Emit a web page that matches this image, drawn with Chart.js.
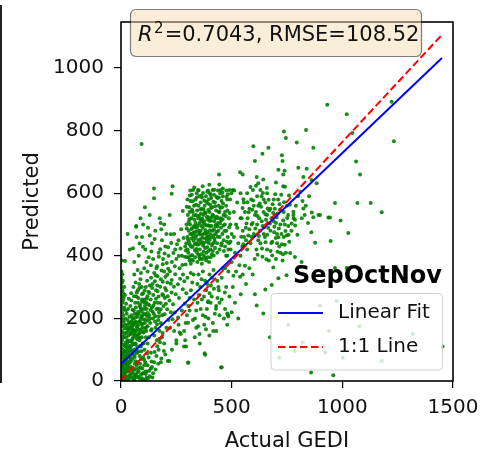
<!DOCTYPE html>
<html><head><meta charset="utf-8">
<script src="https://cdn.jsdelivr.net/npm/chart.js@4.4.0/dist/chart.umd.min.js"></script>
<style>
html,body{margin:0;padding:0;background:#fff;}
#wrap{position:relative;width:492px;height:454px;overflow:hidden;}
#sideSpine{position:absolute;left:0;top:5px;width:2px;height:378px;background:#222;}
canvas{position:absolute;left:0;top:0;}
</style></head><body>
<div id="wrap"><canvas id="c" width="492" height="454"></canvas><div id="sideSpine"></div></div>
<script>
const xTicks=[0,500,1000,1500];
const yTicks=[0,200,400,600,800,1000];
const fitX=[0,1450], fitY=[54,1032];
const oneX=[0,1450], oneY=[3,1106];
const statText={r2:'0.7043',rmse:'108.52'};
const legendTitle='SepOctNov';
const legendLabels=['Linear Fit','1:1 Line'];

const pointsOrigin=[[2,5],[5,12],[8,3],[12,20],[3,30],[15,8],[20,25],[6,45],[10,38],[18,50],[25,15],[28,40],[4,60],[9,72],[14,65],[22,80],[30,62],[35,30],[40,18],[45,45],[50,10],[38,75],[33,90],[26,100],[17,95],[7,88],[2,105],[11,115],[20,122],[29,130],[37,112],[44,98],[52,70],[58,35],[62,55],[48,125],[55,140],[42,150],[34,145],[24,155],[13,140],[5,130],[3,160],[8,175],[16,168],[27,178],[36,185],[46,172],[54,165],[60,150],[66,120],[70,90],[75,60],[80,30],[68,20],[85,80],[90,110],[78,140],[72,170],[64,190],[56,200],[48,210],[38,205],[30,195],[20,200],[10,210],[4,220],[1,240],[6,250],[14,235],[22,225],[32,230],[42,240],[52,228],[62,215],[74,205],[82,190],[88,165],[94,140],[98,120],[92,95],[86,55],[96,40],[100,75],[1,15],[1,50],[1,80],[1,120],[1,190],[1,270],[2,300],[1,330],[3,200],[5,180],[7,155],[9,100],[11,55],[13,28],[16,2],[19,60],[21,110],[23,140],[25,70],[27,5],[31,108],[33,55],[36,160],[39,128],[41,85],[43,20],[47,190],[49,155],[51,95],[53,42],[57,118],[59,180],[61,85],[63,15],[65,160],[67,235],[69,140],[71,50],[73,110],[76,250],[77,180],[79,95],[81,215],[83,130],[84,8],[87,245],[89,200],[91,70],[93,180],[95,260],[97,210],[99,25],[102,155],[104,230],[106,100],[108,185],[110,60],[112,140],[114,250],[116,30],[118,205],[120,120],[2,350],[4,385],[1,300],[3,270],[6,290],[10,280],[8,320],[15,300],[12,265],[18,275],[60,5],[70,12],[80,40],[90,20],[100,5],[110,30],[120,50],[130,15],[140,45],[150,60],[160,80],[135,90],[125,75],[115,10],[145,25],[170,100],[105,50],[99,24],[122,9],[135,40],[212,64],[303,58],[452,43],[24,32],[36,8],[44,62],[57,22],[66,38],[74,28],[29,82],[18,112],[9,140],[39,170],[58,98],[46,112],[31,165],[20,180],[13,190],[26,215]];

const pointsOriginExtra=[[7,17],[19,33],[31,47],[43,71],[13,83],[27,121],[39,97],[51,133],[63,101],[75,147],[87,113],[17,151],[29,169],[41,187],[53,179],[65,203],[77,221],[89,233],[101,197],[113,171],[121,217],[127,243],[11,229],[23,247],[35,263],[47,257],[59,271],[71,283],[83,297],[95,277],[107,289],[119,271],[3,91],[5,143],[7,197],[9,257],[4,313],[6,341],[14,17],[26,53],[38,41],[50,29],[62,77],[74,91],[86,137],[98,157],[110,213],[122,193],[134,227],[146,241],[158,263],[3,45],[17,73],[33,127],[45,151],[57,161],[69,187],[81,163],[93,223],[105,251],[117,263],[129,281],[141,297],[153,319],[165,287],[177,301],[189,317],[201,333],[213,359],[225,311],[15,41],[21,93],[37,57],[49,83],[61,119],[73,133],[85,153],[97,183],[109,167],[131,199],[143,221],[155,207],[167,231],[179,249],[191,273],[203,247],[12,3],[34,12],[56,6],[78,14],[94,9],[112,22],[128,33],[142,11],[156,37],[168,55],[182,72],[194,96],[31,3],[48,37],[66,63],[88,43],[104,68],[118,88],[138,62],[152,93],[164,111],[176,124],[188,153]];

const pointsLow=[[42,105],[48,130],[55,118],[62,145],[68,160],[74,175],[80,150],[86,190],[92,205],[98,170],[104,215],[110,195],[116,230],[122,245],[128,210],[134,260],[140,235],[146,275],[152,250],[158,290],[164,305],[170,270],[45,180],[52,200],[58,225],[64,250],[70,270],[76,290],[82,310],[88,325],[94,300],[100,280],[106,260],[112,300],[118,320],[124,285],[130,305],[136,330],[142,310],[148,215],[154,190],[160,230],[166,250],[172,220],[50,165],[60,185],[72,215],[84,240],[96,255],[108,240],[120,175],[132,185],[144,200],[156,170],[168,195],[46,280],[56,300],[66,315],[78,265],[90,230],[102,120],[114,160],[126,140],[138,165],[150,145],[162,130],[174,160],[180,185],[186,210],[192,240],[198,265],[204,290],[210,315],[185,140],[195,120],[205,170],[215,195],[225,220],[235,245],[60,340],[75,355],[90,345],[105,360],[120,350],[135,370],[150,345],[165,335],[180,325],[195,350],[210,340],[175,135],[136,161],[250,130],[265,155],[303,186],[348,175],[333,140],[356,120],[294,110],[378,89],[384,165],[429,231],[483,211],[469,283],[393,252],[218,64],[304,59],[250,120],[270,150],[230,100],[260,180],[240,160],[285,110],[200,85],[180,60],[290,130]];

const pointsLowExtra=[[157,337],[163,367],[171,397],[177,421],[183,353],[189,373],[197,407],[207,377],[213,427],[221,351],[227,441],[237,409],[243,367],[253,437],[261,399],[269,423],[277,371],[283,457],[289,397],[187,277],[199,297],[211,271],[219,257],[229,283],[239,301],[247,277],[257,309],[267,327],[279,293],[286,319],[163,181],[171,207],[179,229],[197,213],[209,229],[221,169],[233,197],[243,219],[258,203],[275,225],[288,247],[262,265],[229,323],[245,341]];

const pointsMid=[[54,424],[69,495],[84,439],[99,429],[122,490],[130,465],[137,414],[152,454],[175,520],[179,505],[182,485],[225,469],[272,485],[60,380],[80,400],[95,460],[110,420],[125,395],[140,440],[155,480],[170,410],[185,450],[200,430],[215,400],[230,380],[245,420],[260,450],[275,400],[290,430],[100,500],[115,380],[145,390],[160,360],[190,390],[205,470],[240,470],[250,390],[265,360],[280,340],[70,460],[88,520],[130,530],[149,615],[149,584],[233,622],[229,598],[279,543],[68,493],[18,383],[40,420],[30,470],[108,555],[195,500],[220,530],[93,757]];

const pointsBlob=[[292,372],[298,395],[304,410],[310,385],[316,430],[322,402],[328,448],[334,418],[340,465],[346,435],[352,480],[358,452],[364,495],[370,468],[376,510],[382,482],[388,525],[394,498],[400,540],[406,512],[412,555],[418,528],[424,570],[430,545],[436,585],[442,560],[448,600],[454,575],[460,615],[300,460],[306,480],[312,500],[318,520],[324,540],[330,560],[336,580],[342,600],[348,610],[354,590],[360,570],[366,550],[372,530],[378,560],[384,590],[390,605],[396,580],[402,600],[408,585],[414,610],[420,595],[295,440],[301,420],[307,445],[313,470],[319,455],[325,490],[331,475],[337,505],[343,490],[349,520],[355,505],[361,535],[367,518],[373,548],[379,500],[385,470],[391,455],[397,440],[403,470],[409,495],[415,480],[421,510],[427,495],[433,525],[439,505],[445,540],[451,520],[457,555],[463,530],[469,500],[475,560],[481,545],[487,520],[493,580],[499,600],[296,500],[302,530],[308,555],[314,575],[320,595],[326,610],[332,515],[338,530],[344,545],[350,560],[356,420],[362,405],[368,390],[374,440],[380,425],[386,410],[392,395],[398,380],[404,420],[410,405],[416,440],[422,455],[428,470],[434,440],[440,480],[446,460],[452,490],[458,470],[464,450],[470,430],[476,480],[482,460],[488,440],[494,500],[500,470],[305,395],[315,375],[325,385],[335,395],[345,380],[355,395],[365,375],[375,400],[385,385],[395,415],[405,395],[415,415],[425,425],[435,410],[445,420],[455,440],[465,415],[475,400],[485,420],[495,445],[300,580],[310,540],[320,470],[330,495],[340,440],[350,450],[360,480],[370,490],[380,455],[390,475],[400,495],[410,460],[420,485],[430,500],[440,520],[450,610],[460,590],[470,540],[480,580],[490,610],[313,609],[351,609],[393,609],[438,609],[476,609],[511,609],[443,660],[327,462],[341,422],[357,468],[371,432],[387,446],[399,512],[311,436],[323,428],[339,478],[363,442],[377,472],[395,462],[353,438],[367,458]];

const pointsBlobExtra=[[293,417],[297,487],[303,453],[309,517],[317,401],[321,547],[327,473],[333,437],[339,563],[343,411],[347,497],[353,527],[357,389],[361,517],[363,593],[369,443],[373,413],[377,577],[383,537],[387,497],[389,427],[393,567],[397,523],[401,451],[407,553],[411,433],[413,531],[417,573],[423,447],[427,519],[431,589],[437,461],[441,541],[447,503],[453,433],[459,517],[461,567],[467,479],[473,527],[479,445],[483,597],[489,491],[297,557],[311,593],[319,387],[329,529],[337,457],[349,403],[359,549],[371,601],[381,393],[391,517],[403,563],[419,401],[433,477],[449,553],[463,497],[477,589],[491,537],[306,508],[318,486],[336,492],[354,472],[372,506],[388,458],[402,482],[418,466],[436,494],[452,512],[344,528],[362,512],[378,538],[394,546],[410,522],[426,558],[442,586],[458,602],[324,574],[342,586],[366,586],[386,572],[404,594],[421,611],[369,622],[331,618],[444,628],[399,627]];

const pointsLine=[[285,160],[292,185],[298,210],[304,240],[310,265],[316,290],[322,315],[328,340],[334,200],[340,225],[346,250],[352,275],[358,300],[364,325],[370,350],[376,180],[382,205],[388,230],[394,255],[400,280],[406,305],[412,330],[418,355],[424,215],[430,240],[436,265],[442,290],[300,330],[315,345],[330,260],[345,310],[360,230],[375,270],[390,310],[405,250],[420,295],[435,320],[295,280],[310,225],[325,195],[340,170],[355,150],[370,210],[385,290],[400,340],[415,185],[430,160],[445,210],[350,340],[365,260],[380,320],[395,200],[410,270],[485,206],[480,216],[417,160],[399,145],[380,84],[455,44],[108,3]];

const pointsRight=[[540,400],[548,430],[556,460],[564,490],[572,520],[580,550],[588,580],[596,610],[604,390],[612,420],[620,450],[628,480],[636,510],[644,540],[652,570],[660,600],[668,385],[676,415],[684,445],[692,475],[700,505],[708,535],[716,565],[724,595],[732,405],[740,435],[748,465],[756,495],[545,520],[560,540],[575,465],[590,500],[605,530],[620,560],[635,590],[650,460],[665,490],[680,520],[695,550],[710,580],[725,470],[740,500],[755,530],[570,420],[585,440],[600,470],[615,500],[630,440],[645,470],[660,420],[675,550],[690,580],[705,440],[720,410],[735,540],[750,560],[600,560],[615,590],[630,610],[645,580],[660,530],[675,480],[690,510],[705,470],[720,500],[735,460],[625,520],[640,495],[655,515],[670,545],[685,565],[610,540],[595,505],[580,485],[565,450],[550,480],[700,390],[715,430],[730,385],[745,410],[760,445],[770,480],[780,520],[790,560],[800,590],[810,605],[820,575],[835,560],[850,590],[830,530],[845,505],[860,475],[605,277],[613,241],[643,216],[652,292],[681,307],[711,328],[748,338],[688,363],[560,368],[508,336],[538,333],[541,277],[440,300],[455,330],[470,360],[485,350],[500,380],[515,410],[530,440],[520,500],[510,540],[525,570],[540,600],[505,610],[460,360],[475,300],[490,270],[505,300],[520,350],[535,370],[550,340],[565,310],[580,360],[595,340],[480,400],[495,420],[510,460],[525,490],[540,520],[555,570],[570,600],[585,620],[455,260],[470,230],[445,250],[465,200],[480,180],[500,220],[515,250],[530,200]];

const pointsRightExtra=[[553,437],[567,503],[577,539],[589,461],[597,577],[607,487],[617,527],[623,463],[633,557],[637,423],[647,491],[653,533],[661,467],[667,579],[673,503],[679,441],[687,537],[693,493],[699,457],[703,523],[713,487],[719,547],[727,437],[733,513],[743,479],[751,521],[757,467],[763,563],[771,503],[779,541],[617,403],[639,397],[657,389],[683,401],[707,413],[627,567],[641,601],[659,617],[593,547],[571,571],[549,553],[543,461],[653,443],[663,551],[697,597],[711,459],[737,571],[759,593],[787,497],[797,467]];

const pointsSparse=[[932,883],[1020,852],[1223,892],[836,802],[736,797],[745,776],[794,762],[598,750],[666,745],[869,745],[1233,766],[1045,792],[639,726],[727,721],[605,703],[730,703],[1062,701],[1080,660],[550,660],[801,681],[839,678],[711,675],[739,672],[733,660],[824,652],[861,642],[613,652],[620,632],[700,634],[733,622],[967,569],[1068,569],[1128,569],[1178,539],[992,513],[1027,473],[937,522],[899,530],[869,523],[947,447],[877,442],[967,361],[1020,361],[816,380],[786,396],[538,667],[553,581],[884,632],[643,644],[741,621],[610,624],[944,522],[764,409],[892,530],[862,538],[824,551],[779,530],[786,515],[817,520],[899,241],[975,256],[756,180],[940,160],[1077,175],[1318,150],[1453,110],[1178,64],[1002,74],[821,123],[715,74],[786,96],[859,27],[959,18],[673,140],[922,91]];

const scatterPoints=[].concat(pointsOrigin,pointsOriginExtra,pointsLow,pointsLowExtra,pointsMid,pointsBlob,pointsBlobExtra,pointsLine,pointsRight,pointsRightExtra,pointsSparse);

const FONT='DejaVu Sans';

function rrect(ctx,x,y,w,h,r){
  ctx.beginPath();
  ctx.moveTo(x+r,y);ctx.lineTo(x+w-r,y);ctx.quadraticCurveTo(x+w,y,x+w,y+r);
  ctx.lineTo(x+w,y+h-r);ctx.quadraticCurveTo(x+w,y+h,x+w-r,y+h);
  ctx.lineTo(x+r,y+h);ctx.quadraticCurveTo(x,y+h,x,y+h-r);
  ctx.lineTo(x,y+r);ctx.quadraticCurveTo(x,y,x+r,y);ctx.closePath();
}

const decorPlugin={
  id:'decor',
  afterDraw(chart){
    const ctx=chart.ctx, ca=chart.chartArea;
    ctx.save();
    ctx.strokeStyle='#000';ctx.lineWidth=1.6;
    ctx.strokeRect(ca.left,ca.top,ca.right-ca.left,ca.bottom-ca.top);
    rrect(ctx,130.5,9.5,291,47,6);
    ctx.fillStyle='rgba(245,222,179,0.5)';ctx.fill();
    ctx.strokeStyle='rgba(0,0,0,0.5)';ctx.lineWidth=1.2;ctx.stroke();
    ctx.fillStyle='#111';ctx.textBaseline='alphabetic';ctx.textAlign='left';
    let x=138, base=41;
    ctx.font='italic 21px "'+FONT+'"';ctx.fillText('R',x,base);x+=ctx.measureText('R').width+1.5;
    ctx.font='15px "'+FONT+'"';ctx.fillText('2',x,base-8.5);x+=ctx.measureText('2').width+1;
    ctx.font='21px "'+FONT+'"';ctx.fillText('='+statText.r2+', RMSE='+statText.rmse,x,base);
    ctx.font='bold 24px "'+FONT+'"';ctx.textAlign='right';ctx.textBaseline='middle';
    ctx.fillStyle='#000';ctx.fillText(legendTitle,442,277);
    rrect(ctx,271,293.5,171.5,76.5,4);
    ctx.fillStyle='rgba(255,255,255,0.8)';ctx.fill();
    ctx.strokeStyle='rgba(204,204,204,0.9)';ctx.lineWidth=1;ctx.stroke();
    ctx.lineWidth=2;
    ctx.strokeStyle='#0000ff';ctx.beginPath();ctx.moveTo(278,313);ctx.lineTo(323,313);ctx.stroke();
    ctx.strokeStyle='#ff0000';ctx.setLineDash([7.5,3.5]);ctx.beginPath();ctx.moveTo(278,347);ctx.lineTo(323,347);ctx.stroke();
    ctx.setLineDash([]);
    ctx.font='20px "'+FONT+'"';ctx.textAlign='left';ctx.fillStyle='#111';
    ctx.fillText(legendLabels[0],338,313);ctx.fillText(legendLabels[1],338,347);
    ctx.restore();
  }
};

new Chart(document.getElementById('c'),{
  type:'scatter',
  data:{datasets:[
    {label:legendLabels[1],type:'line',data:oneX.map((v,i)=>({x:v,y:oneY[i]})),borderColor:'#ff0000',borderWidth:2,borderDash:[7.5,3.5],pointRadius:0,fill:false,order:0},
    {label:legendLabels[0],type:'line',data:fitX.map((v,i)=>({x:v,y:fitY[i]})),borderColor:'#0000ff',borderWidth:2,pointRadius:0,fill:false,order:1},
    {label:'points',data:scatterPoints.map(p=>({x:p[0],y:p[1]})),pointRadius:2,pointHoverRadius:2,backgroundColor:'rgba(0,128,0,0.9)',borderWidth:0,order:2}
  ]},
  options:{
    responsive:false,animation:false,devicePixelRatio:1,
    layout:{padding:{left:0,right:39,top:4,bottom:0}},
    plugins:{legend:{display:false},tooltip:{enabled:false}},
    events:[],
    scales:{
      x:{type:'linear',min:0,max:1500,
        afterBuildTicks:s=>{s.ticks=xTicks.map(v=>({value:v}));},
        afterFit:s=>{s.height=73;},
        grid:{drawOnChartArea:false,tickLength:7,color:'#000',lineWidth:1.2},
        border:{display:false},
        ticks:{font:{family:FONT,size:20},color:'#111',padding:8,maxRotation:0,autoSkip:false,callback:v=>String(v)},
        title:{display:true,text:'Actual GEDI',font:{family:FONT,size:21},color:'#111',padding:{top:3,bottom:0}}},
      y:{type:'linear',min:0,max:1147,
        afterBuildTicks:s=>{s.ticks=yTicks.map(v=>({value:v}));},
        afterFit:s=>{s.width=121;},
        grid:{drawOnChartArea:false,tickLength:7,color:'#000',lineWidth:1.2},
        border:{display:false},
        ticks:{font:{family:FONT,size:20},color:'#111',padding:10,autoSkip:false,callback:v=>String(v)},
        title:{display:true,text:'Predicted',font:{family:FONT,size:21},color:'#111',padding:{top:20,bottom:0}}}
    }
  },
  plugins:[decorPlugin]
});
</script>
</body></html>
